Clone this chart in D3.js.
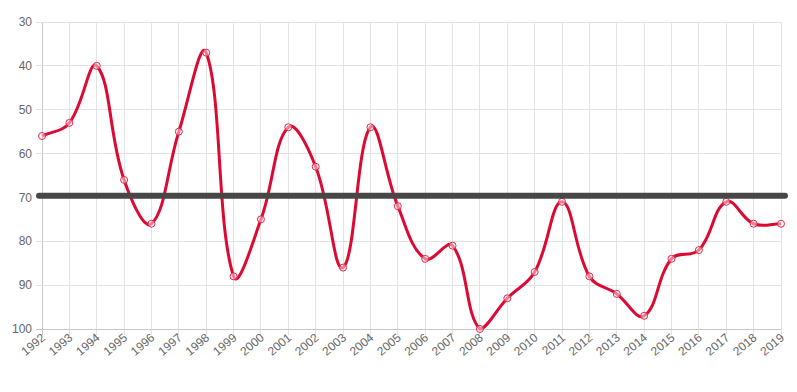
<!DOCTYPE html>
<html>
<head>
<meta charset="utf-8">
<script src="https://cdn.jsdelivr.net/npm/d3@7/dist/d3.min.js"></script>
<style>
  body { margin: 0; background: #fff; }
  text { font-family: "Liberation Sans", Arial, sans-serif; font-size: 12px; fill: #666; }
</style>
</head>
<body>
<div id="chart"></div>
<script>
// data
var years = [1992, 1993, 1994, 1995, 1996, 1997, 1998, 1999, 2000, 2001, 2002, 2003, 2004, 2005,
             2006, 2007, 2008, 2009, 2010, 2011, 2012, 2013, 2014, 2015, 2016, 2017, 2018, 2019];
var values = [56, 53, 40, 66, 76, 55, 37, 88, 75, 54, 63, 86, 54, 72,
              84, 81, 100, 93, 87, 71, 88, 92, 97, 84, 82, 71, 76, 76];
var yTicks = [30, 40, 50, 60, 70, 80, 90, 100];
var thresholdValue = 69.6;

var width = 797, height = 392;
var margin = {top: 22, right: 16, bottom: 63, left: 42};

var svg = d3.select("#chart").append("svg")
    .attr("width", width)
    .attr("height", height);

var x = d3.scalePoint()
    .domain(years)
    .range([margin.left, width - margin.right]);

var y = d3.scaleLinear()
    .domain([30, 100])
    .range([margin.top, height - margin.bottom]);

// grid lines
svg.append("g")
    .selectAll("line")
    .data(years)
    .enter()
    .append("line")
    .attr("x1", function(d) { return x(d); })
    .attr("x2", function(d) { return x(d); })
    .attr("y1", margin.top)
    .attr("y2", height - margin.bottom + 6)
    .attr("stroke", function(d, i) { return i == 0 ? "#c8c8c8" : "#e3e3e3"; })
    .attr("stroke-width", 1)
    .attr("shape-rendering", "crispEdges");

svg.append("g")
    .selectAll("line")
    .data(yTicks)
    .enter()
    .append("line")
    .attr("x1", margin.left - 6)
    .attr("x2", width - margin.right)
    .attr("y1", function(d) { return y(d); })
    .attr("y2", function(d) { return y(d); })
    .attr("stroke", function(d) { return d == 100 ? "#c8c8c8" : "#e3e3e3"; })
    .attr("stroke-width", 1)
    .attr("shape-rendering", "crispEdges");

// y axis labels
svg.append("g")
    .selectAll("text")
    .data(yTicks)
    .enter()
    .append("text")
    .attr("x", margin.left - 10)
    .attr("y", function(d) { return y(d); })
    .attr("dy", "0.35em")
    .attr("text-anchor", "end")
    .text(function(d) { return d; });

// x axis labels, rotated
svg.append("g")
    .selectAll("text")
    .data(years)
    .enter()
    .append("text")
    .attr("text-anchor", "end")
    .attr("transform", function(d) {
        return "translate(" + (x(d) + 4) + "," + (height - margin.bottom + 10) + ") rotate(-40)";
    })
    .text(function(d) { return d; });

// chart.js style bezier (tension 0.4)
function splinePath(pts) {
    var p = d3.path();
    var tension = 0.4;
    var ctrl = pts.map(function(cur, i) {
        var prev = pts[i - 1] || cur, next = pts[i + 1] || cur;
        var d01 = Math.hypot(cur[0] - prev[0], cur[1] - prev[1]);
        var d12 = Math.hypot(next[0] - cur[0], next[1] - cur[1]);
        var s01 = d01 / (d01 + d12 || 1), s12 = d12 / (d01 + d12 || 1);
        var fa = tension * s01, fb = tension * s12;
        var top = y.range()[0], bot = y.range()[1];
        return {
            px: cur[0] - fa * (next[0] - prev[0]),
            py: Math.max(top, Math.min(bot, cur[1] - fa * (next[1] - prev[1]))),
            nx: cur[0] + fb * (next[0] - prev[0]),
            ny: Math.max(top, Math.min(bot, cur[1] + fb * (next[1] - prev[1])))
        };
    });
    p.moveTo(pts[0][0], pts[0][1]);
    for (var i = 1; i < pts.length; i++) {
        p.bezierCurveTo(ctrl[i - 1].nx, ctrl[i - 1].ny, ctrl[i].px, ctrl[i].py, pts[i][0], pts[i][1]);
    }
    return p.toString();
}

var pts = years.map(function(d, i) { return [x(d), y(values[i])]; });

svg.append("path")
    .attr("d", splinePath(pts))
    .attr("fill", "none")
    .attr("stroke", "#dc0a32")
    .attr("stroke-width", 3);

svg.append("g")
    .selectAll("circle")
    .data(years)
    .enter()
    .append("circle")
    .attr("cx", function(d) { return x(d); })
    .attr("cy", function(d, i) { return y(values[i]); })
    .attr("r", 3.5)
    .attr("fill", "rgba(255,240,242,0.5)")
    .attr("stroke", "#e0284a")
    .attr("stroke-width", 1);

// threshold line
svg.append("line")
    .attr("x1", x.range()[0] - 3)
    .attr("x2", x.range()[1] + 4)
    .attr("y1", y(thresholdValue))
    .attr("y2", y(thresholdValue))
    .attr("stroke", "#474747")
    .attr("stroke-width", 6)
    .attr("stroke-linecap", "round");
</script>
</body>
</html>
